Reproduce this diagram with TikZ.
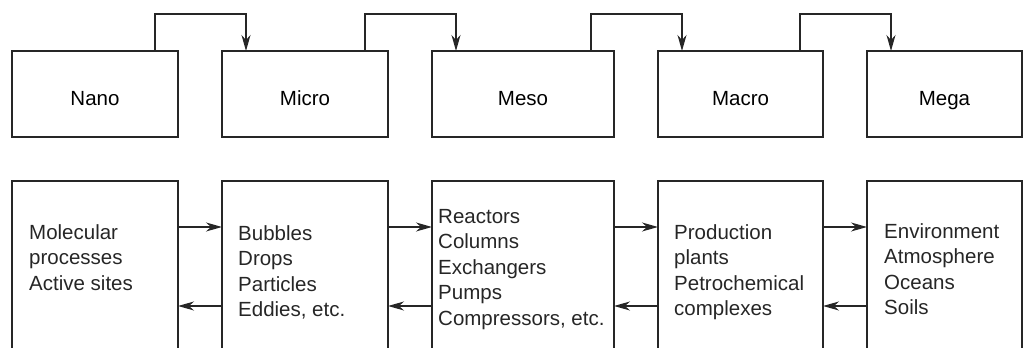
\documentclass[tikz,border=0pt]{standalone}
\usepackage{fontspec}
\setmainfont{Liberation Sans}
\usetikzlibrary{arrows.meta, positioning}

\begin{document}
\begin{tikzpicture}[
  x=1pt, y=1pt,
  node distance=44pt and 44pt,
  level/.style={rectangle, draw=black!85, line width=1.3pt, inner sep=0pt, outer sep=0pt, minimum height=86pt, text height=24pt, text depth=0pt, font=\fontsize{20.5}{25.5}\selectfont},
  case/.style={rectangle, draw=black!85, line width=1.3pt, inner sep=0pt, outer sep=0pt, minimum height=220pt},
  items/.style={anchor=north west, align=left, inner sep=0pt, text=black!85, font=\fontsize{20.5}{25.5}\selectfont},
  arrow/.style={line width=1.3pt, draw=black!85, -{Stealth[length=16pt, width=9pt, inset=5pt]}}
]
\useasboundingbox (0,0) rectangle (1023,348);
\clip (0,0) rectangle (1023,348);

% Scales
\node (nano) [level, minimum width=166pt] at (95,254) {Nano};
\node (micro) [level, minimum width=166pt, right=of nano] {Micro};
\node (meso) [level, minimum width=182pt, right=of micro] {Meso};
\node (macro) [level, minimum width=165pt, right=of meso] {Macro};
\node (mega) [level, minimum width=155pt, right=of macro] {Mega};

% Examples
\node (nanoB) [case, minimum width=166pt, below=of nano] {};
\node (microB) [case, minimum width=166pt, below=of micro] {};
\node (mesoB) [case, minimum width=182pt, below=of meso] {};
\node (macroB) [case, minimum width=165pt, below=of macro] {};
\node (megaB) [case, minimum width=155pt, below=of mega] {};

\node (nanoT) [items] at ([xshift=17pt, yshift=-43pt]nanoB.north west) {Molecular\\processes\\Active sites};
\node (microT) [items] at ([xshift=16pt, yshift=-44pt]microB.north west) {Bubbles\\Drops\\Particles\\Eddies, etc.};
\node (mesoT) [items] at ([xshift=6pt, yshift=-28pt]mesoB.north west) {Reactors\\Columns\\Exchangers\\Pumps\\Compressors, etc.};
\node (macroT) [items] at ([xshift=16pt, yshift=-43pt]macroB.north west) {Production\\plants\\Petrochemical\\complexes};
\node (megaT) [items] at ([xshift=17pt, yshift=-42pt]megaB.north west) {Environment\\Atmosphere\\Oceans\\Soils};

% Upper links
\draw [arrow] ([xshift=-23pt]nano.north east) -- ++(0,37) -| ([xshift=24pt]micro.north west);
\draw [arrow] ([xshift=-23pt]micro.north east) -- ++(0,37) -| ([xshift=24pt]meso.north west);
\draw [arrow] ([xshift=-23pt]meso.north east) -- ++(0,37) -| ([xshift=24pt]macro.north west);
\draw [arrow] ([xshift=-23pt]macro.north east) -- ++(0,37) -| ([xshift=24pt]mega.north west);

% Lower links
\draw [arrow] ([yshift=-46pt]nanoB.north east) -- ([yshift=-46pt]microB.north west);
\draw [arrow] ([yshift=-125pt]microB.north west) -- ([yshift=-125pt]nanoB.north east);
\draw [arrow] ([yshift=-46pt]microB.north east) -- ([yshift=-46pt]mesoB.north west);
\draw [arrow] ([yshift=-125pt]mesoB.north west) -- ([yshift=-125pt]microB.north east);
\draw [arrow] ([yshift=-46pt]mesoB.north east) -- ([yshift=-46pt]macroB.north west);
\draw [arrow] ([yshift=-125pt]macroB.north west) -- ([yshift=-125pt]mesoB.north east);
\draw [arrow] ([yshift=-46pt]macroB.north east) -- ([yshift=-46pt]megaB.north west);
\draw [arrow] ([yshift=-125pt]megaB.north west) -- ([yshift=-125pt]macroB.north east);
\end{tikzpicture}
\end{document}
